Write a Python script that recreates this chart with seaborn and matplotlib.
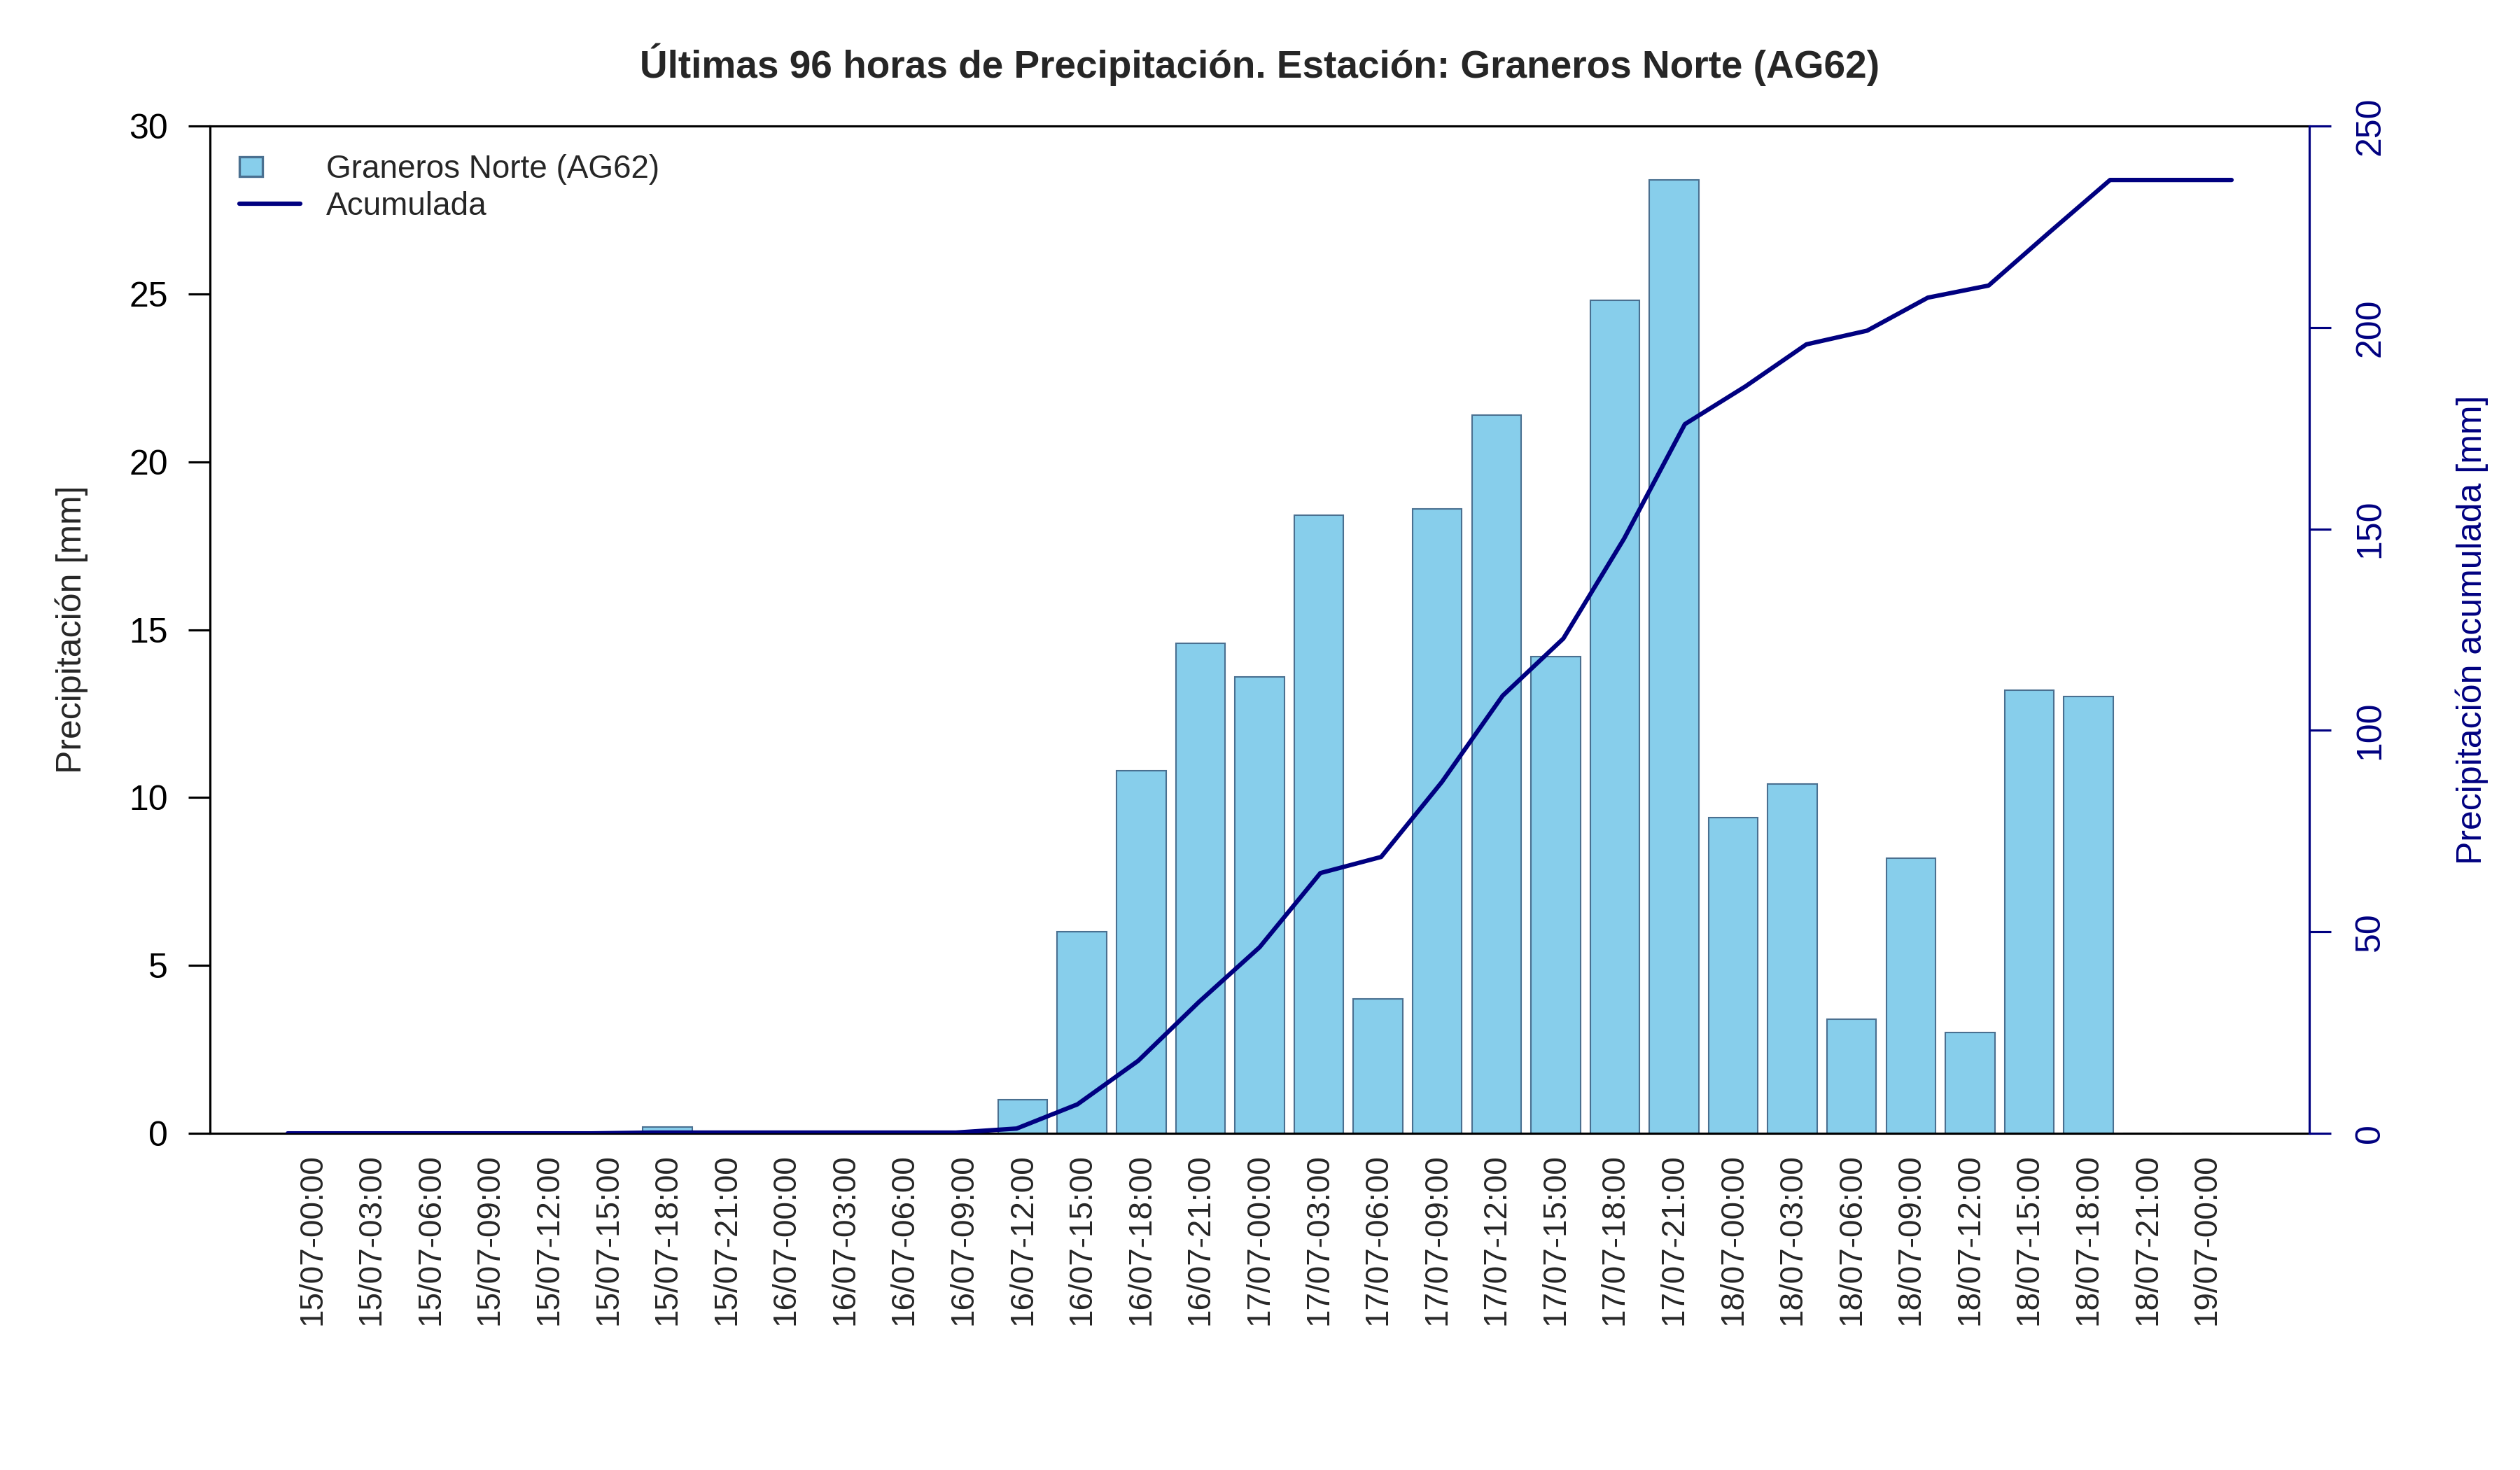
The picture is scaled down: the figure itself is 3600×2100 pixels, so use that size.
import numpy as np
import pandas as pd
import seaborn as sns
import matplotlib.pyplot as plt
import matplotlib.patches as mpatches
from matplotlib.lines import Line2D
from matplotlib.legend_handler import HandlerPatch

# datos (cada 3 horas)
horas = ["15/07-00:00", "15/07-03:00", "15/07-06:00", "15/07-09:00", "15/07-12:00",
         "15/07-15:00", "15/07-18:00", "15/07-21:00", "16/07-00:00", "16/07-03:00",
         "16/07-06:00", "16/07-09:00", "16/07-12:00", "16/07-15:00", "16/07-18:00",
         "16/07-21:00", "17/07-00:00", "17/07-03:00", "17/07-06:00", "17/07-09:00",
         "17/07-12:00", "17/07-15:00", "17/07-18:00", "17/07-21:00", "18/07-00:00",
         "18/07-03:00", "18/07-06:00", "18/07-09:00", "18/07-12:00", "18/07-15:00",
         "18/07-18:00", "18/07-21:00", "19/07-00:00"]
precip = [0, 0, 0, 0, 0, 0, 0.2, 0, 0, 0, 0, 0, 1.0, 6.0, 10.8, 14.6, 13.6, 18.4, 4.0,
          18.6, 21.4, 14.2, 24.8, 28.4, 9.4, 10.4, 3.4, 8.2, 3.0, 13.2, 13.0, 0, 0]
acumulada = [0, 0, 0, 0, 0, 0, 0.2, 0.2, 0.2, 0.2, 0.2, 0.2, 1.2, 7.2, 18.0, 32.6, 46.2,
             64.6, 68.6, 87.2, 108.6, 122.8, 147.6, 176.0, 185.4, 195.8, 199.2, 207.4,
             210.4, 223.6, 236.6, 236.6, 236.6]

estacion = "Graneros Norte (AG62)"
barra = "#87CEEB"
borde = "#4A7090"
azul = "#000080"

sns.set_style("white")
plt.rcParams['font.family'] = ['Liberation Sans', 'DejaVu Sans']

n = len(horas)
df = pd.DataFrame({"hora": horas, "precip": precip, "acum": acumulada})
df["idx"] = np.arange(1, n + 1)

fig = plt.figure(figsize=(12, 7), dpi=300)
rect = [0.0833, 0.229, 0.8331, 0.6853]
ax = fig.add_axes(rect)

sns.barplot(data=df, x="hora", y="precip", color=barra, edgecolor=borde, linewidth=0.5,
            width=0.833, saturation=1, errorbar=None, ax=ax)
ax.set_xlim(-1.73, n - 1 + 1.73)
ax.set_ylim(0, 30)
ax.set_yticks(range(0, 31, 5))
ax.tick_params(axis='y', left=True, direction='out', length=7.4, width=0.75, pad=7,
               labelsize=12, colors='black')
ax.tick_params(axis='x', bottom=False, length=0, pad=7, labelsize=11, labelrotation=90)
ax.set_xlabel("")
ax.set_ylabel("Precipitación [mm]", fontsize=12, labelpad=14)
for s in ["left", "top", "bottom"]:
    ax.spines[s].set_color("black")
    ax.spines[s].set_linewidth(0.75)
ax.spines["right"].set_visible(False)

# eje secundario (escala x propia, como un plot encima): acumulada
ax2 = fig.add_axes(rect, facecolor='none')
sns.lineplot(data=df, x="idx", y="acum", color=azul, linewidth=1.5, ax=ax2)
pad_x = 0.04 * (n - 1)
ax2.set_xlim(1 - pad_x, n + pad_x)
ax2.set_ylim(0, 250)
ax2.set_xticks([])
ax2.set_yticks(range(0, 251, 50))
ax2.yaxis.tick_right()
ax2.yaxis.set_label_position('right')
ax2.tick_params(axis='y', right=True, left=False, direction='out', length=7.4, width=0.75,
                pad=8, labelsize=12, colors=azul, labelrotation=90)
for lab in ax2.get_yticklabels():
    lab.set_verticalalignment('center')
ax2.set_xlabel("")
ax2.set_ylabel("Precipitación acumulada [mm]", fontsize=12, color=azul, labelpad=23.5)
for s in ["left", "top", "bottom"]:
    ax2.spines[s].set_visible(False)
ax2.spines["right"].set_color(azul)
ax2.spines["right"].set_linewidth(0.75)


def caja(legend, orig_handle, xdescent, ydescent, width, height, fontsize):
    return mpatches.Rectangle((-xdescent, -ydescent + (height - 6.7) / 2), 7.9, 6.7)


handles = [mpatches.Patch(facecolor=barra, edgecolor=borde, linewidth=0.8),
           Line2D([], [], color=azul, linewidth=1.5)]
ax2.legend(handles, [estacion, "Acumulada"], loc='upper left',
           bbox_to_anchor=(0.014, 0.972), frameon=False, fontsize=11,
           handlelength=1.9, handletextpad=0.8, labelspacing=0.2,
           borderpad=0, borderaxespad=0,
           handler_map={mpatches.Patch: HandlerPatch(patch_func=caja)})

fig.text(0.5, 1 - 92 / 2100, "Últimas 96 horas de Precipitación. Estación: " + estacion,
         ha='center', va='center', fontsize=13.2, fontweight='bold')

fig.savefig("out.png", dpi=300)
